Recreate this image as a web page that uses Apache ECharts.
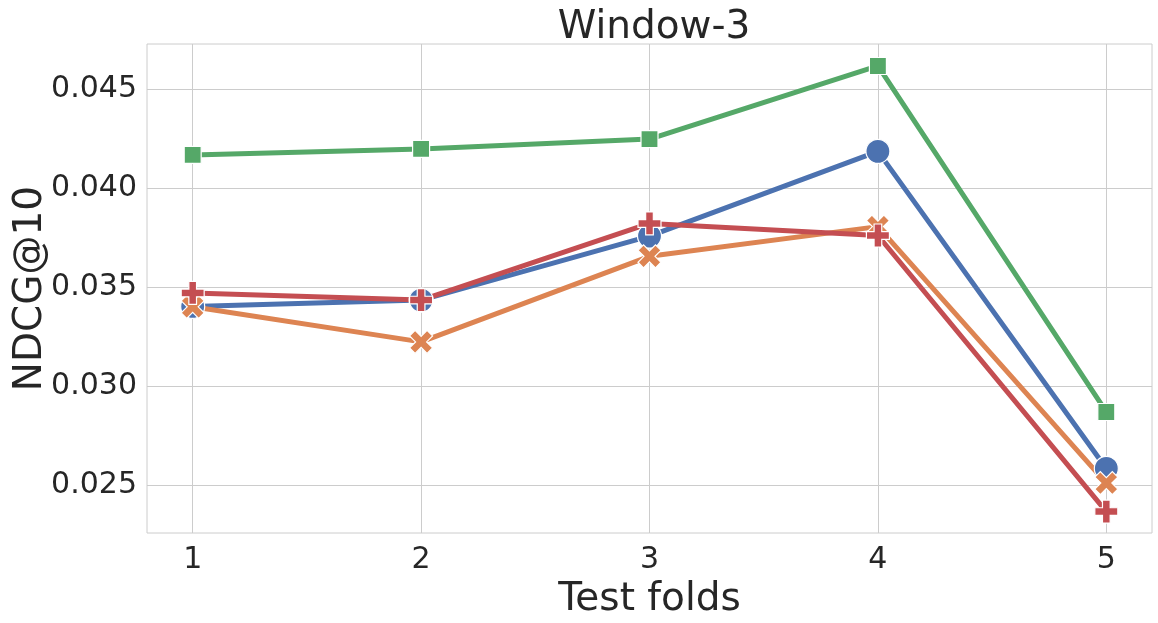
<!DOCTYPE html>
<html><head><meta charset="utf-8">
<script src="https://cdn.jsdelivr.net/npm/echarts@6/dist/echarts.min.js"></script>
<style>html,body{margin:0;padding:0;background:#fff}#c{width:1158px;height:623px}</style>
</head><body><div id="c"></div>
<script>
const folds = [1, 2, 3, 4, 5];
const yTicks = [0.025, 0.030, 0.035, 0.040, 0.045];
const blueVals = [0.03402, 0.03434, 0.03757, 0.04185, 0.02584];
const orangeVals = [0.03400, 0.03223, 0.03655, 0.03805, 0.02510];
const greenVals = [0.04167, 0.04197, 0.04247, 0.04616, 0.02869];
const redVals = [0.03470, 0.03434, 0.03821, 0.03760, 0.02366];

const XPATH = 'path://M0,2.4 L2.4,0 L5,2.6 L7.6,0 L10,2.4 L7.4,5 L10,7.6 L7.6,10 L5,7.4 L2.4,10 L0,7.6 L2.6,5 Z';
const PPATH = 'path://M3.33,0 L6.67,0 L6.67,3.33 L10,3.33 L10,6.67 L6.67,6.67 L6.67,10 L3.33,10 L3.33,6.67 L0,6.67 L0,3.33 L3.33,3.33 Z';

function mk(name, vals, color, symbol, size) {
  return {
    name, type: 'line', data: folds.map((f, i) => [f, vals[i]]),
    symbol, symbolSize: size, showAllSymbol: true,
    lineStyle: { color, width: 5 },
    itemStyle: { color, borderColor: '#fff', borderWidth: 1.2, opacity: 1 },
    emphasis: { disabled: true }, animation: false
  };
}

const chart = echarts.init(document.getElementById('c'), null, { renderer: 'canvas' });
const font = 'DejaVu Sans';
chart.setOption({
  animation: false,
  title: { text: 'Window-3', left: 649, top: 3, textAlign: 'center',
    textStyle: { fontFamily: font, fontSize: 39, fontWeight: 'normal', color: '#262626' } },
  grid: { left: 147, right: 6, top: 44, bottom: 90, outerBoundsMode: 'none', containLabel: false,
    show: true, borderColor: '#cccccc', borderWidth: 1 },
  xAxis: {
    type: 'value', min: 0.8, max: 5.2,
    name: 'Test folds', nameLocation: 'middle', nameGap: 38,
    nameTextStyle: { fontFamily: font, fontSize: 39, color: '#262626' },
    axisLine: { show: false }, axisTick: { show: false, customValues: folds },
    axisLabel: { customValues: folds, fontFamily: font, fontSize: 30, color: '#262626', margin: 12 },
    splitLine: { show: true, lineStyle: { color: '#cccccc', width: 1 } }
  },
  yAxis: {
    type: 'value', min: 0.02258, max: 0.04727,
    name: 'NDCG@10', nameLocation: 'middle', nameGap: 97, nameMoveOverlap: false,
    nameTextStyle: { fontFamily: font, fontSize: 39, color: '#262626' },
    axisLine: { show: false }, axisTick: { show: false, customValues: yTicks },
    axisLabel: { customValues: yTicks, fontFamily: font, fontSize: 30, color: '#262626', margin: 10,
      formatter: v => v.toFixed(3) },
    splitLine: { show: true, lineStyle: { color: '#cccccc', width: 1 } }
  },
  series: [
    mk('blue', blueVals, '#4c72b0', 'circle', 24),
    mk('orange', orangeVals, '#dd8452', XPATH, 23),
    mk('green', greenVals, '#55a868', 'rect', 17),
    mk('red', redVals, '#c44e52', PPATH, 23)
  ]
});
</script></body></html>
